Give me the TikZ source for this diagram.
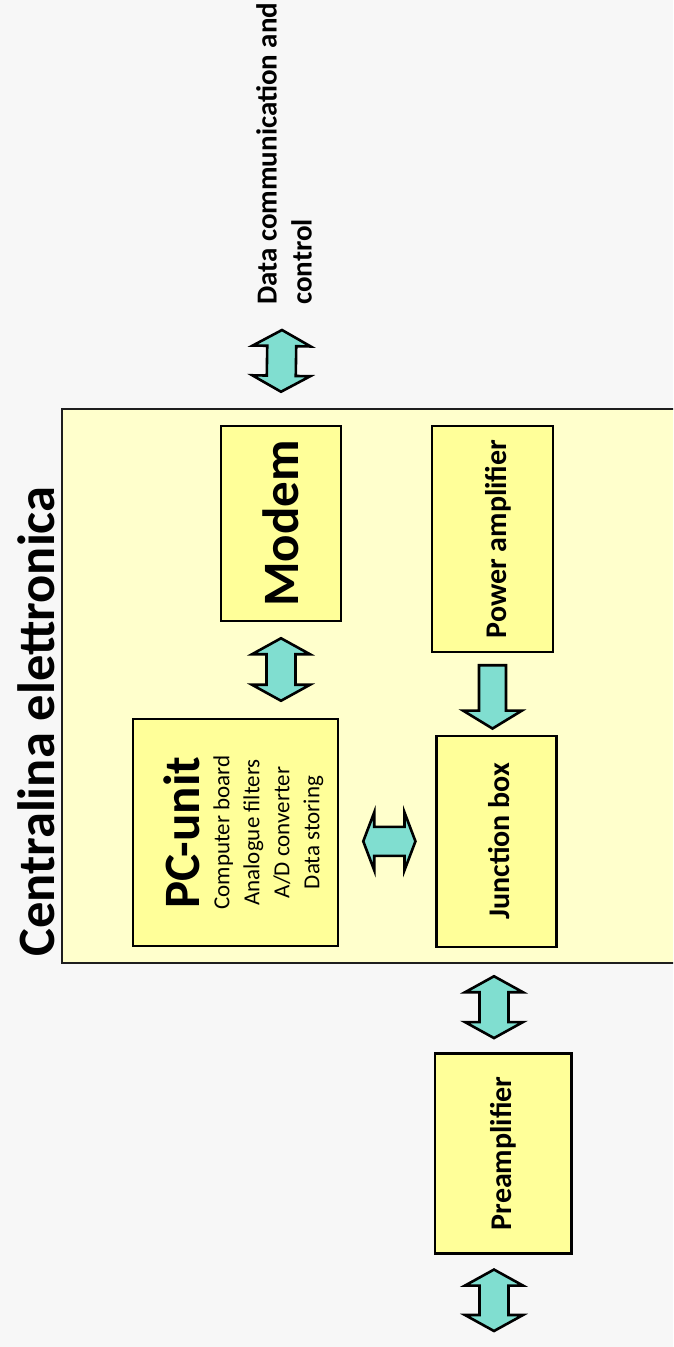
\documentclass[tikz,border=0pt]{standalone}
\usepackage{fontspec}
\setmainfont{Carlito}
\usetikzlibrary{calc}
\definecolor{bg}{RGB}{247,247,247}
\definecolor{panel}{RGB}{255,255,204}
\definecolor{panelline}{RGB}{30,30,30}
\definecolor{boxfill}{RGB}{255,255,153}
\definecolor{arrowfill}{RGB}{128,222,208}
\tikzset{
  unitbox/.style={draw=black, line width=2.5pt, fill=boxfill, inner sep=0pt},
  panelbox/.style={draw=panelline, line width=2.5pt, fill=panel, inner sep=0pt},
  blockarrow/.style={draw=black, line width=2.6pt, fill=arrowfill, line join=miter},
  plain/.style={inner sep=0pt},
}
% double block arrow: #1 head length, #2 one tip, #3 other tip
\newcommand\dblarrow[3]{%
  \draw[blockarrow] let \p1=#2, \p2=#3,
      \n1={atan2(\y2-\y1,\x2-\x1)}, \n2={veclen(\x2-\x1,\y2-\y1)} in
    [shift={(\p1)}, rotate=\n1]
    (0,0) -- (#1,29) -- (#1,14.5) -- (\n2-#1,14.5) -- (\n2-#1,29) -- (\n2,0)
    -- (\n2-#1,-29) -- (\n2-#1,-14.5) -- (#1,-14.5) -- (#1,-29) -- cycle;}
% single block arrow: #1 head length, #2 tail, #3 tip
\newcommand\sglarrow[3]{%
  \draw[blockarrow] let \p1=#2, \p2=#3,
      \n1={atan2(\y2-\y1,\x2-\x1)}, \n2={veclen(\x2-\x1,\y2-\y1)} in
    [shift={(\p1)}, rotate=\n1]
    (0,13.5) -- (\n2-#1,13.5) -- (\n2-#1,29.5) -- (\n2,0)
    -- (\n2-#1,-29.5) -- (\n2-#1,-13.5) -- (0,-13.5) -- cycle;}
\newcommand\hugebf{\bfseries\fontsize{51}{60}\selectfont}
\newcommand\titlebf{\bfseries\fontsize{52.5}{60}\selectfont}
\newcommand\midbf{\bfseries\fontsize{30}{36}\selectfont}
\newcommand\labelbf{\bfseries\fontsize{29}{35}\selectfont}
\newcommand\subtxt{\mdseries\fontsize{23}{30}\selectfont}
\begin{document}
\begin{tikzpicture}[x=1pt,y=-1pt]
\path[fill=bg] (0,0) rectangle (673,1347);
\useasboundingbox (0,0) rectangle (673,1347);
\begin{scope}
\clip (0,0) rectangle (673,1347);
\node[panelbox, minimum width=640, minimum height=554] (central) at (382,686) {};
\end{scope}

\node[plain] (title) at (36,721.5) {\rotatebox{90}{\titlebf Centralina elettronica}};

\node[unitbox, minimum width=120, minimum height=195] (modem) at (281,523.5)
  {\rotatebox{90}{\hugebf Modem}};
\node[unitbox, minimum width=121, minimum height=226] (power) at (492.5,539)
  {\hspace{12pt}\rotatebox{90}{\midbf Power amplifier}};
\node[unitbox, minimum width=205, minimum height=227] (pc) at (235.5,832.5)
  {\hspace{16pt}\rotatebox{90}{\parbox{200pt}{\centering\lineskiplimit=-100pt\lineskip=0pt
    {\hugebf PC-unit}\\
    \subtxt Computer board\\Analogue filters\\A/D converter\\Data storing}}};
\node[unitbox, minimum width=120, minimum height=211] (junction) at (496.7,841.3)
  {\hspace{4.6pt}\rotatebox{90}{\midbf Junction box}};
\node[unitbox, minimum width=136.7, minimum height=200] (preamp) at (503.3,1153.3)
  {\rotatebox{90}{\midbf Preamplifier}};

\node[plain, anchor=south west] (dcc) at (256,305)
  {\rotatebox{90}{\parbox{330pt}{\raggedright\labelbf\lineskiplimit=-100pt
    Data communication and\\control}}};

\coordinate (extTop) at (282,330);
\coordinate (extBot) at (494,1331);

\dblarrow{16}{(extTop)}{($(modem.center |- central.north)+(0,-16)$)}
\dblarrow{16}{($(modem.south)+(0,16)$)}{($(modem.south |- pc.north)+(0,-17)$)}
\dblarrow{11}{($(pc.east |- junction.center)+(24,0)$)}{($(junction.west)+(-20,0)$)}
\sglarrow{18}{($(power.south)+(0,12)$)}{($(power.south |- junction.north)+(0,-6)$)}
\dblarrow{16}{($(extBot |- central.south)+(0,12)$)}{($(extBot |- preamp.north)+(0,-14)$)}
\dblarrow{16}{($(extBot |- preamp.south)+(0,15)$)}{(extBot)}
\end{tikzpicture}
\end{document}
